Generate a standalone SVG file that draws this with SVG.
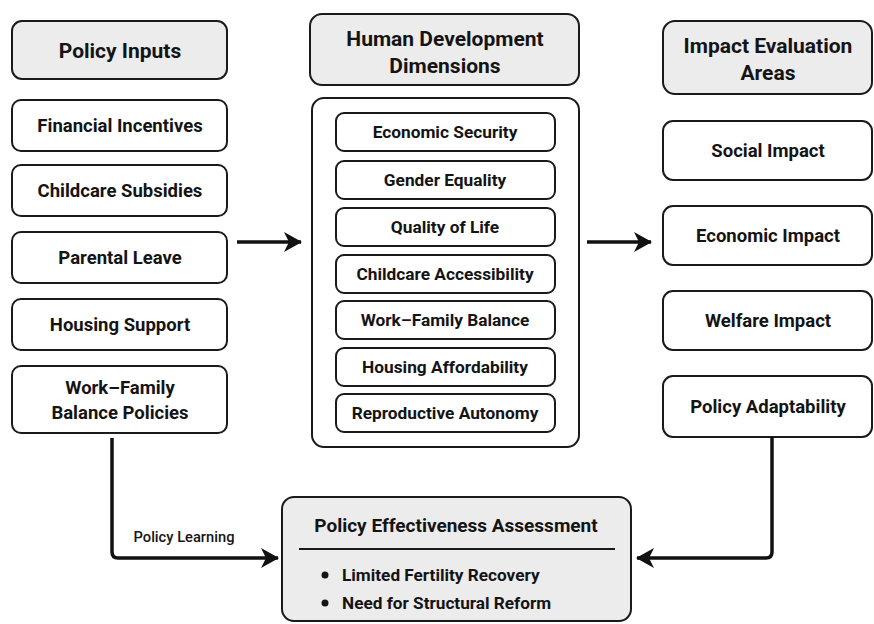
<svg xmlns="http://www.w3.org/2000/svg" width="874" height="624" viewBox="0 0 874 624">
<defs>
<marker id="ah" viewBox="0 0 18 20" refX="17" refY="10" markerWidth="18" markerHeight="20" markerUnits="userSpaceOnUse" orient="auto">
<path d="M0,0 L18,10 L0,20 L5,10 Z" fill="#111"/>
</marker>
<style>
.hdr{fill:#ececec;stroke:#1a1a1a;stroke-width:2}
.box{fill:#fff;stroke:#1a1a1a;stroke-width:2}
.t{font-family:Roboto,"Liberation Sans",sans-serif;font-weight:700;fill:#141414;text-anchor:middle}
.h{font-size:21px}
.i{font-size:18.5px}
.s{font-size:17.3px}
.c{fill:none;stroke:#111;stroke-width:3.5}
</style>
</defs>
<rect width="874" height="624" fill="#fff"/>

<g id="policy-inputs-header"><rect class="hdr" x="12" y="21" width="215" height="58" rx="10"/><text class="t h" x="120" y="58">Policy Inputs</text></g>
<g id="financial-incentives"><rect class="box" x="12" y="100" width="215" height="51" rx="9"/><text class="t i" x="120" y="132">Financial Incentives</text></g>
<g id="childcare-subsidies"><rect class="box" x="12" y="165" width="215" height="51" rx="9"/><text class="t i" x="120" y="197">Childcare Subsidies</text></g>
<g id="parental-leave"><rect class="box" x="12" y="232" width="215" height="51" rx="9"/><text class="t i" x="120" y="264">Parental Leave</text></g>
<g id="housing-support"><rect class="box" x="12" y="299" width="215" height="51" rx="9"/><text class="t i" x="120" y="331">Housing Support</text></g>
<g id="work-family-policies"><rect class="box" x="12" y="366" width="215" height="67" rx="9"/><text class="t i" x="120" y="394">Work–Family</text><text class="t i" x="120" y="419">Balance Policies</text></g>

<g id="hdd-header"><rect class="hdr" x="310" y="14" width="269" height="71" rx="12"/><text class="t h" x="445" y="46">Human Development</text><text class="t h" x="445" y="73">Dimensions</text></g>
<g id="hdd-container"><rect class="box" x="312" y="98" width="267" height="349" rx="12"/></g>
<g id="economic-security"><rect class="box" x="336" y="113" width="219" height="38" rx="8"/><text class="t s" x="445" y="138">Economic Security</text></g>
<g id="gender-equality"><rect class="box" x="336" y="161" width="219" height="38" rx="8"/><text class="t s" x="445" y="186">Gender Equality</text></g>
<g id="quality-of-life"><rect class="box" x="336" y="208" width="219" height="38" rx="8"/><text class="t s" x="445" y="233">Quality of Life</text></g>
<g id="childcare-accessibility"><rect class="box" x="336" y="255" width="219" height="38" rx="8"/><text class="t s" x="445" y="280">Childcare Accessibility</text></g>
<g id="work-family-balance"><rect class="box" x="336" y="301" width="219" height="38" rx="8"/><text class="t s" x="445" y="326">Work–Family Balance</text></g>
<g id="housing-affordability"><rect class="box" x="336" y="348" width="219" height="38" rx="8"/><text class="t s" x="445" y="373">Housing Affordability</text></g>
<g id="reproductive-autonomy"><rect class="box" x="336" y="394" width="219" height="38" rx="8"/><text class="t s" x="445" y="419">Reproductive Autonomy</text></g>

<g id="impact-header"><rect class="hdr" x="663" y="21" width="209" height="73" rx="12"/><text class="t h" x="768" y="53">Impact Evaluation</text><text class="t h" x="768" y="80">Areas</text></g>
<g id="social-impact"><rect class="box" x="663" y="121" width="209" height="59" rx="10"/><text class="t i" x="768" y="157">Social Impact</text></g>
<g id="economic-impact"><rect class="box" x="663" y="206" width="209" height="59" rx="10"/><text class="t i" x="768" y="242">Economic Impact</text></g>
<g id="welfare-impact"><rect class="box" x="663" y="291" width="209" height="59" rx="10"/><text class="t i" x="768" y="327">Welfare Impact</text></g>
<g id="policy-adaptability"><rect class="box" x="663" y="376" width="209" height="61" rx="10"/><text class="t i" x="768" y="413">Policy Adaptability</text></g>

<g id="policy-effectiveness"><rect class="hdr" x="282" y="497" width="349" height="124" rx="12"/><text class="t" x="456" y="532" style="font-size:19px">Policy Effectiveness Assessment</text><line x1="299" y1="549" x2="615" y2="549" stroke="#1a1a1a" stroke-width="2"/><circle cx="325" cy="575" r="3.5" fill="#141414"/><circle cx="325" cy="603" r="3.5" fill="#141414"/><text class="t" x="342" y="581" style="text-anchor:start;font-size:17.2px">Limited Fertility Recovery</text><text class="t" x="342" y="609" style="text-anchor:start;font-size:17.2px">Need for Structural Reform</text></g>

<g id="connectors">
<line class="c" x1="237" y1="242" x2="301" y2="242" stroke-width="4" marker-end="url(#ah)"/>
<line class="c" x1="587" y1="242" x2="651" y2="242" stroke-width="4" marker-end="url(#ah)"/>
<path class="c" d="M112,438 V552 Q112,558 118,558 H278" marker-end="url(#ah)"/>
<path class="c" d="M772,437 V552 Q772,558 766,558 H637" marker-end="url(#ah)"/>
<text class="t" x="184" y="542" style="font-size:14.7px;font-weight:500">Policy Learning</text>
</g>
</svg>
